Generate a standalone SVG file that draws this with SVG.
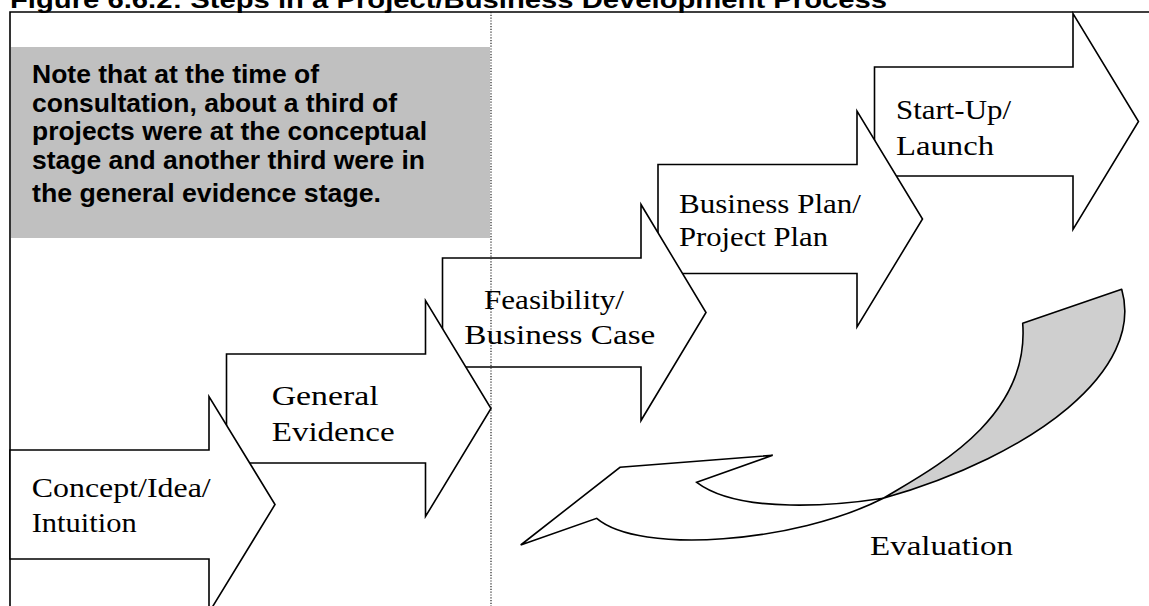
<svg xmlns="http://www.w3.org/2000/svg" width="1149" height="606" viewBox="0 0 1149 606">
  <style>
    .title { font-family: "Liberation Sans", Arial, sans-serif; font-weight: bold; font-size: 24px; fill: #000; }
    .note { font-family: "Liberation Sans", Arial, sans-serif; font-weight: bold; font-size: 26px; fill: #000; }
    .step { fill: #fff; stroke: #000; stroke-width: 1.6; stroke-linejoin: miter; }
    .label { font-family: "Liberation Serif", "Times New Roman", serif; font-size: 27px; fill: #000; }
    .frame { stroke: #000; stroke-width: 1.6; fill: none; }
    .divider { stroke: #222; stroke-width: 1.2; stroke-dasharray: 1.2 1.6; fill: none; }
  </style>

  <rect width="1149" height="606" fill="#fff"/>

  <!-- heading, partly above the page edge -->
  <text class="title" x="10" y="7.5" textLength="877" lengthAdjust="spacingAndGlyphs">Figure 6.6.2: Steps in a Project/Business Development Process</text>

  <!-- outer frame -->
  <path class="frame" d="M10,606 V12 H1149"/>

  <!-- shaded note -->
  <g id="note">
    <rect x="11" y="47" width="479" height="191" fill="#c0c0c0"/>
    <text class="note" x="32" y="82.7" textLength="287" lengthAdjust="spacingAndGlyphs">Note that at the time of</text>
    <text class="note" x="32" y="111.7" textLength="365" lengthAdjust="spacingAndGlyphs">consultation, about a third of</text>
    <text class="note" x="32" y="140" textLength="395" lengthAdjust="spacingAndGlyphs">projects were at the conceptual</text>
    <text class="note" x="32" y="169.3" textLength="393" lengthAdjust="spacingAndGlyphs">stage and another third were in</text>
    <text class="note" x="32" y="201.7" textLength="349" lengthAdjust="spacingAndGlyphs">the general evidence stage.</text>
  </g>

  <!-- step arrows, later steps drawn first so earlier heads sit on top -->
  <g id="step-startup">
    <path class="step" d="M874.5,67 H1073 V13.5 L1138.5,121.5 L1073,229.5 V176 H874.5 Z"/>
  </g>
  <g id="step-businessplan">
    <path class="step" d="M658,164.5 H857 V111 L922.5,219 L857,327 V273.5 H658 Z"/>
  </g>
  <g id="step-feasibility">
    <path class="step" d="M442.5,258 H641 V204.5 L706,312.5 L641,420.5 V367 H442.5 Z"/>
  </g>
  <g id="step-evidence">
    <path class="step" d="M226.5,354 H425.5 V300.5 L491,408.5 L425.5,516.5 V463 H226.5 Z"/>
  </g>
  <g id="step-concept">
    <path class="step" d="M10,450 H209 V396.5 L275,504.5 L209,612.5 V559 H10 Z"/>
  </g>

  <!-- curved feedback arrow: twisted ribbon tail and head -->
  <g id="evaluation">
    <path d="M1022.7,323.3 L1121.7,289.3 C1145,370 1035,455 883.3,498.3 C930,470 1030,420 1022.7,323.3 Z" fill="#cfcfcf" stroke="#000" stroke-width="1.6" stroke-linejoin="round"/>
    <path d="M883.3,498.3 C840,505 740,515 696.7,482.3 L772.7,455.3 L620,467.3 L520.7,545 L596.7,518.3 C640,555 795,543 883.3,498.3 Z" fill="#fff" stroke="#000" stroke-width="1.6" stroke-linejoin="miter"/>
  </g>

  <!-- step labels -->
  <g id="labels">
    <text class="label" x="31.7" y="497" textLength="179" lengthAdjust="spacingAndGlyphs">Concept/Idea/</text>
    <text class="label" x="31.7" y="531.7" textLength="105" lengthAdjust="spacingAndGlyphs">Intuition</text>
    <text class="label" x="271.7" y="405" textLength="107" lengthAdjust="spacingAndGlyphs">General</text>
    <text class="label" x="271.7" y="440.7" textLength="123" lengthAdjust="spacingAndGlyphs">Evidence</text>
    <text class="label" x="484" y="309" textLength="140" lengthAdjust="spacingAndGlyphs">Feasibility/</text>
    <text class="label" x="464.3" y="344.3" textLength="191" lengthAdjust="spacingAndGlyphs">Business Case</text>
    <text class="label" x="679" y="212.5" textLength="182" lengthAdjust="spacingAndGlyphs">Business Plan/</text>
    <text class="label" x="679" y="246.3" textLength="149" lengthAdjust="spacingAndGlyphs">Project Plan</text>
    <text class="label" x="896" y="118.8" textLength="115" lengthAdjust="spacingAndGlyphs">Start-Up/</text>
    <text class="label" x="896" y="154.5" textLength="98" lengthAdjust="spacingAndGlyphs">Launch</text>
    <text class="label" x="870" y="555" textLength="143" lengthAdjust="spacingAndGlyphs">Evaluation</text>
  </g>

  <!-- dotted divider across the page -->
  <line class="divider" x1="491" y1="12" x2="491" y2="606"/>
</svg>
